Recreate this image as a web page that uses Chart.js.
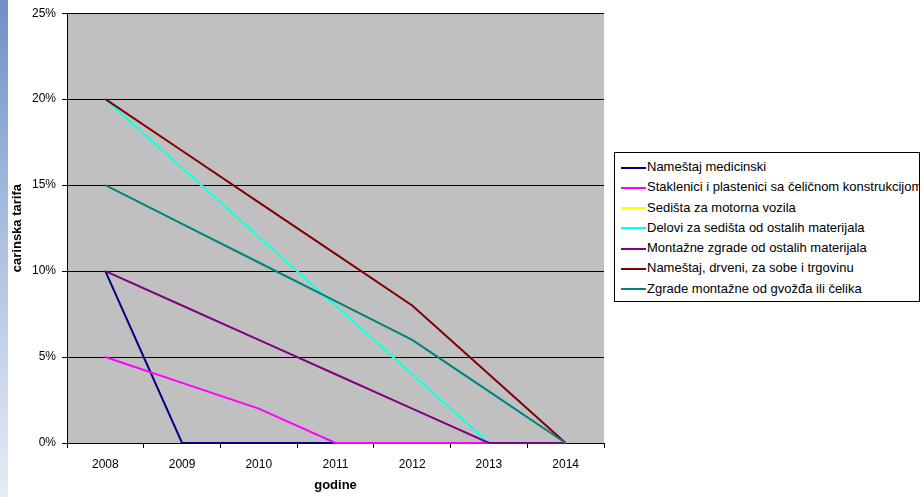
<!DOCTYPE html>
<html>
<head>
<meta charset="utf-8">
<script src="https://cdn.jsdelivr.net/npm/chart.js@4/dist/chart.umd.min.js"></script>
<style>
  html, body { margin: 0; padding: 0; background: #fff; }
  #wrap { position: relative; width: 923px; height: 497px; overflow: hidden; font-family: Arial, "Liberation Sans", sans-serif; }
  #strip { position: absolute; left: 0; top: 0; width: 8px; height: 497px; background: linear-gradient(#6f91c7, #a9bde0 45%, #e6ecf6); }
  #chart { position: absolute; left: 0; top: 0; }
  #legend { position: absolute; left: 614px; top: 152px; width: 304px; height: 144px; border: 1px solid #000; background: #fff; overflow: hidden; padding-top: 4px; box-sizing: content-box; }
  .row { height: 20.3px; line-height: 20px; white-space: nowrap; font-size: 13px; color: #000; }
  .swatch { display: inline-block; width: 25px; height: 2px; margin: 0 1px 0 6px; vertical-align: middle; }
</style>
</head>
<body>
<div id="wrap">
  <div id="strip"></div>
  <canvas id="chart" width="923" height="497"></canvas>
  <div id="legend"></div>
</div>
<script>
  var years = ['2008', '2009', '2010', '2011', '2012', '2013', '2014'];
  var seriesNames = [
    'Nameštaj medicinski',
    'Staklenici i plastenici sa čeličnom konstrukcijom',
    'Sedišta za motorna vozila',
    'Delovi za sedišta od ostalih materijala',
    'Montažne zgrade od ostalih materijala',
    'Nameštaj, drveni, za sobe i trgovinu',
    'Zgrade montažne od gvožđa ili čelika'
  ];
  var namestajMedicinski = [10, 0, 0, 0, 0, 0, 0];
  var staklenici = [5, 3.5, 2, 0, 0, 0, 0];
  var sedistaVozila = [20, 16, 12, 8, 4, 0, 0];
  var deloviSedista = [20, 16, 12, 8, 4, 0, 0];
  var montazneOstalih = [10, 8, 6, 4, 2, 0, 0];
  var namestajDrveni = [20, 17, 14, 11, 8, 4, 0];
  var zgradeGvozdja = [15, 12.75, 10.5, 8.25, 6, 3, 0];
  var yTicks = [0, 5, 10, 15, 20, 25];

  var seriesData = [namestajMedicinski, staklenici, sedistaVozila, deloviSedista, montazneOstalih, namestajDrveni, zgradeGvozdja];
  var colors = ['#000080', '#ff00ff', '#ffff00', '#00ffff', '#800080', '#800000', '#008080'];

  var plotBg = {
    id: 'plotBg',
    beforeDraw: function (chart) {
      var a = chart.chartArea, ctx = chart.ctx;
      ctx.save();
      ctx.fillStyle = '#c0c0c0';
      ctx.fillRect(a.left, a.top, a.right - a.left, a.bottom - a.top);
      ctx.restore();
    }
  };

  var datasets = seriesData.map(function (d, i) {
    return {
      label: seriesNames[i],
      data: d,
      borderColor: colors[i],
      backgroundColor: colors[i],
      borderWidth: 2,
      pointRadius: 0,
      tension: 0,
      clip: false,
      order: seriesData.length - i
    };
  });

  new Chart(document.getElementById('chart'), {
    type: 'line',
    data: { labels: years, datasets: datasets },
    plugins: [plotBg],
    options: {
      responsive: false,
      animation: false,
      events: [],
      layout: { padding: { top: 13, right: 319, bottom: 0, left: 0 } },
      plugins: { legend: { display: false }, tooltip: { enabled: false } },
      scales: {
        x: {
          offset: true,
          afterFit: function (s) { s.height = 54; },
          grid: { offset: true, drawOnChartArea: false, drawTicks: true, tickLength: 5, color: '#000' },
          border: { display: true, color: '#000' },
          ticks: { color: '#000', font: { family: 'Arial', size: 12 }, padding: 9, maxRotation: 0 },
          title: { display: true, text: 'godine', color: '#000', font: { family: 'Arial', size: 13, weight: 'bold' }, padding: { top: 0, bottom: 4 } }
        },
        y: {
          min: 0,
          max: 25,
          afterFit: function (s) { s.width = 67; },
          afterBuildTicks: function (s) { s.ticks = yTicks.map(function (v) { return { value: v }; }); },
          grid: { color: '#000', tickLength: 5, drawTicks: true },
          border: { display: true, color: '#000' },
          ticks: { color: '#000', font: { family: 'Arial', size: 12 }, padding: 6, callback: function (v) { return v + '%'; } },
          title: { display: true, text: 'carinska tarifa', color: '#000', font: { family: 'Arial', size: 13, weight: 'bold' }, padding: { top: 10, bottom: 0 } }
        }
      }
    }
  });

  var legend = document.getElementById('legend');
  legend.innerHTML = seriesNames.map(function (n, i) {
    return '<div class="row"><span class="swatch" style="background:' + colors[i] + '"></span>' + n + '</div>';
  }).join('');
</script>
</body>
</html>
